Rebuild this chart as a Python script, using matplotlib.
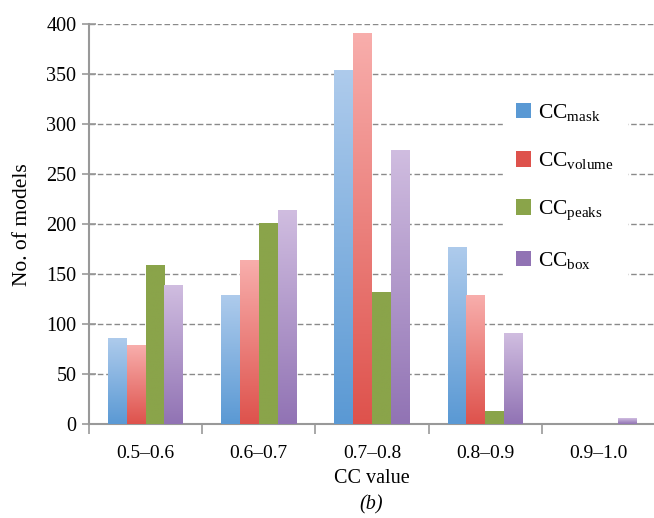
#Grouped bar chart of CC value ranges with gradient filled bars

from matplotlib import pyplot as plt
from matplotlib.colors import LinearSegmentedColormap
from matplotlib.patches import Patch
import numpy as np

#the data
categories = ['0.5–0.6', '0.6–0.7', '0.7–0.8', '0.8–0.9', '0.9–1.0']
cc_mask = [86, 129, 354, 177, 0]
cc_volume = [79, 164, 391, 129, 0]
cc_peaks = [159, 201, 132, 13, 0]
cc_box = [139, 214, 274, 91, 6]
series_names = [r'CC$_{\mathrm{mask}}$', r'CC$_{\mathrm{volume}}$',
                r'CC$_{\mathrm{peaks}}$', r'CC$_{\mathrm{box}}$']

#top colour, bottom colour for each series
colours = [('#aecbec', '#5a99d4'),
           ('#f8aeac', '#de524c'),
           ('#8aa44a', '#8aa44a'),
           ('#d0bde0', '#9173b4')]

plt.rcParams['font.family'] = ['Liberation Serif', 'DejaVu Serif']
plt.rcParams['mathtext.fontset'] = 'custom'
plt.rcParams['mathtext.rm'] = 'Liberation Serif'

fig = plt.figure(figsize=(6.54, 5.18), dpi=100)
ax = fig.add_axes([0.136, 0.181, 0.866, 0.772])

x = np.arange(len(categories))
width = 0.167
all_series = [cc_mask, cc_volume, cc_peaks, cc_box]

for i, (vals, (top, bottom)) in enumerate(zip(all_series, colours)):
    cmap = LinearSegmentedColormap.from_list('g%d' % i, [bottom, top])
    grad = np.linspace(0, 1, 256).reshape(-1, 1)
    bars = ax.bar(x + (i - 1.5) * width, vals, width, color=bottom, zorder=3,
                  linewidth=0)
    #paint a vertical gradient inside each bar
    for b in bars:
        h = b.get_height()
        if h <= 0:
            continue
        x0 = b.get_x()
        im = ax.imshow(grad, cmap=cmap, aspect='auto', origin='lower',
                       extent=[x0, x0 + b.get_width(), 0, h], zorder=4)
        im.set_clip_path(b)

ax.set_xlim(-0.5, len(categories) - 0.5)
ax.set_ylim(0, 400)
ax.set_yticks(range(0, 401, 50))

#labels at centres, tick marks at boundaries
ax.set_xticks(x)
ax.set_xticklabels(categories, fontsize=14)
ax.set_xticks(np.arange(-0.5, len(categories), 1), minor=True)
ax.tick_params(axis='x', which='major', length=0, pad=15)
ax.tick_params(axis='x', which='minor', length=7, width=1.2, color='#999999',
               direction='out')
ax.tick_params(axis='y', labelsize=14.5, length=10, width=1.2, color='#999999',
               direction='inout', pad=4)

ax.grid(True, axis='y', linestyle=(0, (4, 2)), color='#8a8a8a', linewidth=1,
        zorder=0)
ax.set_axisbelow(True)

for side in ['top', 'right']:
    ax.spines[side].set_visible(False)
for side in ['left', 'bottom']:
    ax.spines[side].set_color('#999999')
    ax.spines[side].set_linewidth(1.5)

ax.set_ylabel('No. of models', fontsize=15.5)
ax.yaxis.set_label_coords(-0.100, 0.5)

#axis title and panel label
fig.text(0.568, 0.077, 'CC value', ha='center', va='center', fontsize=14.5)
fig.text(0.568, 0.026, '(b)', ha='center', va='center', fontsize=14.5,
         style='italic')
fig.text(0.012, -0.004, 'Figure 4', ha='left', va='top', fontsize=14,
         fontweight='bold', family='DejaVu Sans', color='#222222')

#legend on the right
handles = [Patch(facecolor=c[1], edgecolor='none') for c in colours]
leg = ax.legend(handles, series_names, loc='upper left',
                bbox_to_anchor=(0.712, 0.865), fontsize=15.5, frameon=True,
                facecolor='white', edgecolor='white', framealpha=1,
                handlelength=0.7, handleheight=0.7, handletextpad=0.35,
                labelspacing=1.25, borderpad=0.6)
leg.set_zorder(10)

plt.savefig('out.png', dpi=100)
